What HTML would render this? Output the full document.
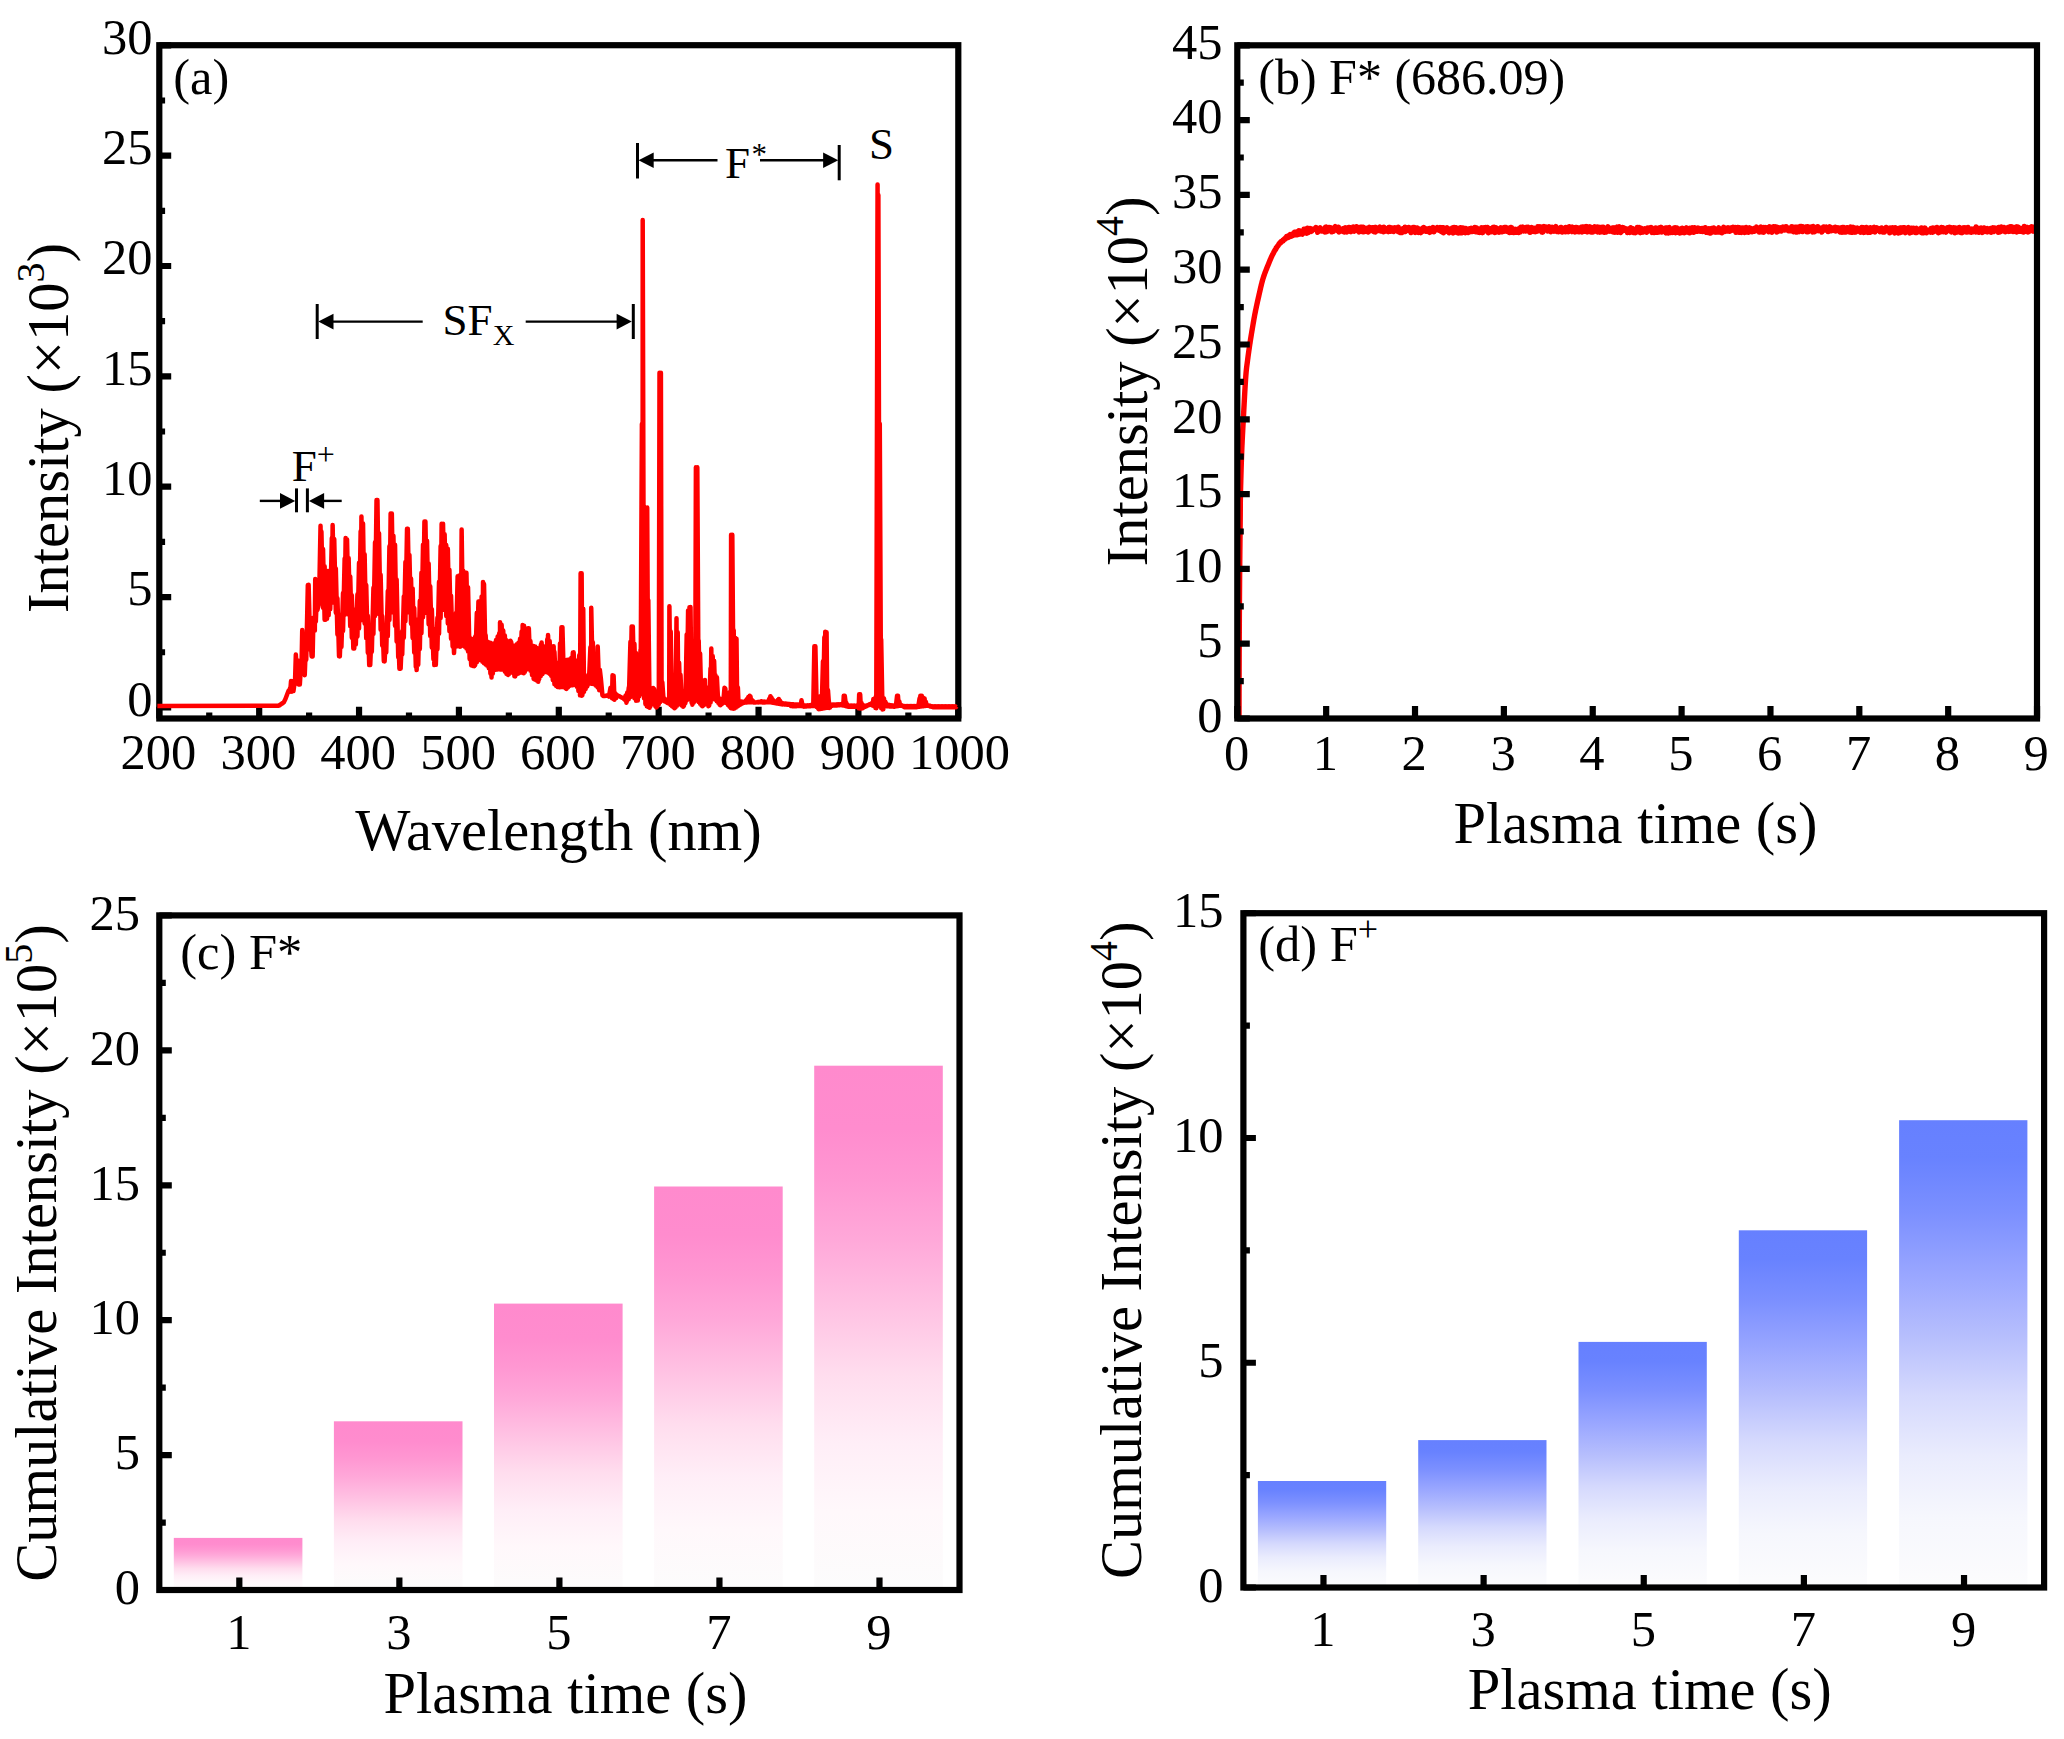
<!DOCTYPE html>
<html lang="en"><head><meta charset="utf-8"><title>Plasma emission spectra and cumulative intensity</title>
<style>html,body{margin:0;padding:0;background:#fff}svg{display:block}text{font-family:"Liberation Serif", serif;fill:#000}</style></head><body>
<svg width="2064" height="1739" viewBox="0 0 2064 1739">
<rect width="2064" height="1739" fill="#fff"/>
<defs>
<linearGradient id="gp" x1="0" y1="0" x2="0" y2="1">
<stop offset="0" stop-color="#FF8ACD"/>
<stop offset="0.12" stop-color="#FF8CCE"/>
<stop offset="0.22" stop-color="#FF97D2"/>
<stop offset="0.33" stop-color="#FFA8D9"/>
<stop offset="0.46" stop-color="#FFC2E3"/>
<stop offset="0.59" stop-color="#FFDDEE"/>
<stop offset="0.72" stop-color="#FFEEF7"/>
<stop offset="0.85" stop-color="#FFF8FB"/>
<stop offset="1" stop-color="#FCFCFC"/>
</linearGradient>
<linearGradient id="gb" x1="0" y1="0" x2="0" y2="1">
<stop offset="0" stop-color="#6680FF"/>
<stop offset="0.08" stop-color="#6882FF"/>
<stop offset="0.2" stop-color="#7C90FF"/>
<stop offset="0.33" stop-color="#99A6FF"/>
<stop offset="0.46" stop-color="#B6BEFD"/>
<stop offset="0.59" stop-color="#D5D9FD"/>
<stop offset="0.72" stop-color="#EAECFD"/>
<stop offset="0.85" stop-color="#F6F7FD"/>
<stop offset="1" stop-color="#FCFCFD"/>
</linearGradient>
</defs>
<path d="M159.3 707.4h11.9M159.3 597.05h11.9M159.3 486.7h11.9M159.3 376.35h11.9M159.3 266h11.9M159.3 155.65h11.9M159.3 45.3h11.9M159.3 652.23h5.8M159.3 541.88h5.8M159.3 431.52h5.8M159.3 321.17h5.8M159.3 210.82h5.8M159.3 100.48h5.8" stroke="#000" stroke-width="6.2" fill="none"/>
<path d="M159.3 718.5v-11.8M259.18 718.5v-11.8M359.05 718.5v-11.8M458.93 718.5v-11.8M558.8 718.5v-11.8M658.67 718.5v-11.8M758.55 718.5v-11.8M858.42 718.5v-11.8M958.3 718.5v-11.8M209.24 718.5v-5.9M309.11 718.5v-5.9M408.99 718.5v-5.9M508.86 718.5v-5.9M608.74 718.5v-5.9M708.61 718.5v-5.9M808.49 718.5v-5.9M908.36 718.5v-5.9" stroke="#000" stroke-width="6.2" fill="none"/>
<rect x="159.3" y="45.2" width="799" height="673.3" fill="none" stroke="#000" stroke-width="6.2"/>
<polyline fill="none" stroke="#FF0000" stroke-width="4.5" stroke-linejoin="round" stroke-linecap="butt" points="157.4,706 270,705.8 277.91,705.8 279.03,705.36 279.03,705.58 280.63,704.38 280.63,704.54 282.23,703.18 282.23,703.5 283.83,702.16 283.83,702.16 285.43,699 285.43,699 287.03,694.76 287.03,694.76 288.63,690.52 288.83,692.15 290.23,687.78 290.23,691.68 291.03,681.1 291.83,691.68 293.43,681.09 293.43,691.1 295.03,679.81 295.03,681.27 295.83,654.5 297.43,681.77 297.43,660.35 298.43,684.49 299.03,662.8 299.83,684.49 301.43,659.25 301.43,670.88 302.23,630.06 303.83,670.71 303.83,634.63 304.73,675.15 306.23,635.55 306.23,659.71 307.83,585.12 307.83,648.13 308.63,584.77 310.23,649.32 310.23,635.32 311.63,656.45 311.83,652.04 312.63,656.45 313.43,617.74 314.83,630.62 315.23,579.02 315.83,621.62 316.63,600.52 317.43,610.03 319.03,602.36 319.03,602.82 320.53,525.82 321.43,602.12 321.43,531.55 323.03,607.75 323.03,548.93 324.63,619.79 324.63,566.31 325.43,619.79 326.23,571.01 327.03,618.83 327.83,571.11 328.63,615.35 330.23,570.59 330.23,609.29 331.83,537.96 331.83,602.62 332.63,525.1 334.23,602.29 334.23,538.95 335.83,612.72 335.83,568.6 337.43,634.43 337.43,598.25 339.03,656.14 339.03,614.62 339.83,656.45 341.43,614.45 341.43,646.87 343.03,593.01 343.03,630.87 344.63,558.45 344.63,614.87 345.63,538.04 346.23,612.01 347.03,539.38 348.63,614.45 348.63,557.98 350.23,626.1 350.23,576.59 351.83,637.76 351.83,595.19 353.33,648.55 353.43,609.27 354.23,648.55 355.83,609.6 355.83,644.49 357.43,594.32 357.43,636.49 359.03,562.81 359.03,628.49 360.63,531.29 360.63,620.49 361.43,516.47 363.03,619.29 363.03,523.47 364.63,623.49 364.63,554.27 366.23,638.12 366.23,585.07 367.83,652.75 367.83,615.87 369.23,665.08 369.43,626.69 370.23,665.08 371.83,625.99 371.83,651.79 373.43,587.85 373.43,633.85 375.03,542.17 375.03,615.92 376.53,499.94 376.63,612.04 377.43,499.94 379.03,613.88 379.03,533.34 380.63,629.65 380.63,574.71 382.23,645.42 382.23,616.09 383.83,661.19 383.83,628.96 384.63,661.49 386.23,628.26 386.23,652.34 387.83,590.93 387.83,636.1 389.43,546.24 389.43,619.87 390.63,513.6 391.03,612.11 391.83,513.6 393.43,612.62 393.43,535.7 395.03,625.63 395.03,544.67 396.63,641.43 396.63,579.51 398.23,657.23 398.23,635.25 399.43,668.68 400.63,637.08 400.63,668.68 402.23,630.93 402.23,654.36 403.83,596.42 403.83,637.72 405.43,561.91 405.43,621.09 407.03,528.69 407.03,612.2 407.83,528.69 409.43,612.53 409.43,554.88 411.03,623.65 411.03,578.57 412.63,638.05 412.63,588.42 414.23,652.45 414.23,608.06 415.83,666.85 415.83,619.43 416.63,670.11 418.23,619.26 418.23,664.72 419.83,600.84 419.83,648.92 421.43,572.74 421.43,633.11 423.03,544.64 423.03,617.31 424.43,521.5 424.63,612.33 425.43,521.5 427.03,613.24 427.03,540.78 428.63,624.25 428.63,563.57 430.23,635.86 430.23,586.36 431.83,647.47 431.83,609.15 433.43,659.07 433.43,628.7 434.33,665.08 435.83,629.4 435.83,664.82 437.43,617.71 437.43,649.22 439.03,581.84 439.03,633.62 440.63,545.96 440.63,618.02 441.63,523.66 442.23,609.58 443.03,523.66 444.63,609.86 444.63,534.22 446.23,615.88 446.23,545.1 447.83,623.51 447.83,548.67 449.43,631.14 449.43,569.69 451.03,638.77 451.03,595.69 452.63,646.4 452.63,614.85 454.03,653.08 454.43,643.44 455.93,613.06 456.03,646.59 457.63,576.26 458.43,646.09 459.23,575.62 460.03,646.7 460.83,574.7 460.83,646.26 461.63,529.41 463.23,645.54 463.23,570.65 464.83,646.78 464.83,572.53 466.43,648.54 466.43,572.79 468.03,651.53 468.03,587.34 469.63,658.92 469.63,636.94 471.23,665.41 471.23,640 472.83,665.92 473.63,638.65 474.33,666.29 475.23,636.5 475.23,664.94 476.83,612.7 476.83,662.31 478.43,601.53 478.43,660.07 480.03,601.22 480.83,660.32 481.63,596.58 482.43,661.81 483.03,581.89 484.03,663.24 484.03,583.96 485.63,664.53 485.63,635.04 487.23,665.82 487.23,641.53 488.83,668.31 488.83,642.16 490.43,673.75 490.43,642.79 491.53,677.49 492.03,643.42 492.83,673.71 494.43,643.2 494.43,670.12 496.03,640.09 496.03,669.7 497.63,636.62 497.63,669.51 499.23,633.13 500.03,669.48 500.03,622.15 501.63,669.49 501.63,624.75 503.23,669.78 503.23,630.47 504.83,671.77 504.83,635.45 506.43,674.03 506.43,640.25 508.03,674.98 508.83,641.46 508.83,674.5 510.43,640.83 510.43,672.79 511.23,642.03 512.83,672.89 512.83,645.41 514.43,676.3 515.23,645.41 515.23,676.48 516.83,644.13 516.83,674.32 518.43,642.85 518.43,673.58 520.03,638.79 520.03,672.84 521.63,631.59 522.43,672.72 522.63,625.03 523.73,673.3 524.03,625.75 524.83,671.87 525.63,628.52 526.43,669.68 528.03,628.34 528.83,668.63 528.83,628.21 530.43,670.77 530.43,641.07 532.03,675.08 532.03,645.75 533.63,678.93 533.63,646.1 535.23,679.84 535.23,646.42 536.83,680.76 536.83,647.94 538.23,681.84 539.23,648.57 539.23,679.18 540.83,644.76 540.83,675.98 541.63,642.6 542.43,674.27 543.23,646.28 544.03,672.56 545.63,646.97 546.43,671.75 547.23,639.32 548.03,672.78 548.03,635.09 549.63,673.91 549.63,640.97 551.23,675.97 551.23,646.36 552.83,680.14 553.63,646.32 554.43,684.32 554.43,651.73 556.03,685.98 556.03,662.62 557.63,687.12 558.43,662.46 559.23,687.17 560.03,643.38 560.03,687.17 561.43,627.18 561.63,687.12 562.43,627.18 564.03,687.23 564.03,659.97 565.63,688.32 566.43,660.05 566.53,688.9 568.03,659.78 568.03,687.48 569.63,659.51 569.63,685.96 571.23,657.95 571.23,685.32 572.83,652.62 572.83,685.13 573.63,652.35 575.23,684.97 575.23,660.32 576.83,686.77 576.83,662.93 578.43,691.07 579.23,655.18 580.03,695.36 580.63,573.27 581.63,695.65 581.63,573.27 582.43,695.01 583.23,608.73 584.03,691.91 584.83,674.96 585.63,689.06 586.43,679.5 587.23,686.31 588.83,680.19 588.83,683.89 590.43,647.19 591.23,683.65 591.23,607.77 592.83,683.86 592.83,642.23 594.43,684.3 594.43,662.76 596.03,685.74 596.83,662.06 597.63,687.33 597.73,646.59 599.23,690.14 599.83,669.86 600.83,678.28 600.83,678.28 602.43,695.28 602.43,694.85 603.23,696.07 604.03,695.82 605.23,695.91 606.43,695.54 606.43,695.54 607.23,695.37 608.83,696.54 609.63,692.59 609.63,692.59 610.53,687.78 612.03,698.18 612.53,675.35 613.63,699.24 613.63,675.75 614.43,699.78 615.23,693.2 616.03,698.15 616.83,694.7 617.63,696.48 618.93,695.94 620.03,696.59 620.03,696.59 621.63,697.55 621.63,697.55 623.23,698.37 623.23,698.37 624.83,699.78 625.63,695.48 626.43,702.67 627.23,692.54 627.23,701.05 628.83,687.15 628.83,698.9 630.43,641.82 630.43,697.04 631.63,626.47 632.83,696.35 632.83,626.47 634.43,698.22 634.43,643.75 636.03,700.78 636.03,652.98 637.8,700.59 639.1,656.6 639.2,696.26 640.5,649.85 640.6,694.01 641.9,423.97 642.6,694.26 642.7,219.9 644,698.33 644.1,506.61 645.4,703.93 645.5,507.86 646.8,706.28 647.2,507.5 648.2,707.04 648.3,600.15 649.6,707.79 649.7,687.95 650.4,706.47 651.1,688.96 651.8,704.53 653.1,688.07 653.8,704.53 653.9,688.68 655.2,706.18 655.3,691.31 656.2,707.49 657.3,691.56 657.4,706.58 658.7,688.02 658.8,704.31 659.5,372.7 660.2,702.03 660.9,372.7 661.6,700.57 662.3,682.16 663.6,700.86 663.7,697.57 665,701.56 665.1,699.4 666.4,702.26 667.1,699.45 667.8,702.96 668.5,698.42 669.2,703.73 669.4,606.3 670.6,704.93 670.7,631.43 672,706.13 672.1,689.6 673.4,707.33 673.5,690.62 674.5,708.26 675.5,689.6 675.6,707.16 676.5,618.35 677,705.76 677.7,632.15 678.4,704.47 679.1,662.77 680.4,704.55 680.5,674.86 681.8,705.65 681.9,690.7 683.2,706.77 683.3,693.88 684,705.82 685.3,693.37 685.4,703.02 686.7,634.46 686.8,700.22 688.1,610.38 688.2,698.66 689.5,607.13 690.2,699.18 690.5,607.04 691.6,702.74 691.7,677.35 692.4,704.67 693.7,677.86 693.8,702.71 695.1,667.46 695.2,700.86 695.9,467.2 697.2,700.61 697.3,467.2 698.6,701.95 698.7,640.6 700,703.58 700.1,653.61 701.4,705.21 701.5,683.82 702.4,706.36 703.5,683.95 703.6,705.46 704.9,679.88 705,704.44 705.7,687 707,704.56 707.1,694.03 708.4,706.23 709.1,693.91 709.2,705.61 710.5,668.36 710.6,702.35 711.3,648.43 712,699.26 712.7,656.08 714,698.59 714.1,660.86 715.4,699.71 715.5,675.28 716.8,701.31 716.9,677.24 718.2,702.91 718.3,696.68 719.6,704.51 719.7,698.74 720.4,705.36 721.7,699.35 721.8,704.24 723.1,697.93 723.2,703.12 724.5,687.75 724.6,702.36 725.3,688.46 726.6,703.31 726.7,692.81 728,704.99 728.7,693.47 729.4,706.67 730.1,691.64 730.8,708.2 731.1,534.7 732.2,708.48 732.3,534.7 733.6,708.76 733.7,630.24 734.4,708.55 735.1,637.76 735.8,707.61 736.5,638.83 737.2,706.68 737.9,687.6 738.6,705.75 739.3,701.2 740,704.85 740.7,701.46 741.4,703.98 742.1,701.64 742.8,703.1 744.1,701.81 744.2,702.74 745.5,700.91 745.6,702.6 746.9,698.98 747,702.46 748.3,697.06 748.4,702.32 749.7,695.71 749.8,702.31 750.5,696.47 751.2,702.31 751.9,699.88 752.6,702.31 753.3,701.19 754.3,702.55 755.3,702.44 755.4,702.43 756.7,702.29 756.8,702.31 758.1,702.02 758.2,702.31 759.5,701.72 759.6,702.31 760.9,701.42 761,702.31 761.7,701.44 762.4,702.31 763.1,701.56 763.8,702.31 764.5,701.67 765.2,702.31 765.9,701.79 766.6,702.31 767.9,701.33 768,702.31 769.3,698.64 769.4,702.31 770.4,696.22 771.4,702.45 771.5,697.47 772.8,702.68 772.9,699.81 774.2,702.92 774.3,701.58 775.6,703.15 776.3,701.45 777,703.38 777.7,700.09 778.4,703.62 778.8,699 779.8,703.85 779.9,700.51 781.2,704.08 781.3,702.57 782.6,704.26 782.7,703.27 784,704.35 784.1,703.43 785.4,704.45 785.5,703.58 786.8,704.54 786.9,703.74 788.2,704.64 788.3,703.89 789.6,704.73 789.7,704.05 791,704.83 791.1,704.2 792.4,704.92 792.5,704.28 793.8,705.02 793.9,704.36 795.2,705.11 795.3,704.44 796.6,705.21 796.7,704.51 798,705.3 798.1,704.59 799.4,705.4 799.5,704.66 790.47,705.26 790.87,706.01 791.57,705.26 792.27,706.01 792.97,705.26 793.67,706.01 794.37,705.26 795.07,706.01 795.77,705.26 796.47,706.01 797.17,705.26 797.87,706.01 799.17,705.25 799.27,706.01 800.57,704.38 800.67,706.01 801.47,700.2 802.67,706.23 802.77,704.9 804.07,706.51 804.77,705.61 804.87,706.54 806.17,705.51 806.27,706.44 807.57,705.42 807.67,706.35 808.97,705.33 809.07,706.26 810.37,705.23 810.47,706.16 811.77,705.1 811.87,706.11 813.17,703.37 813.27,706.11 814.37,646.34 815.27,706.12 815.37,646.34 816.67,706.88 816.77,695.57 818.07,708.51 818.17,696.6 818.87,709.28 819.57,696.62 820.27,709.08 821.57,696.45 821.67,708.83 822.97,661.2 823.07,708.53 824.37,637.34 824.47,708.23 825.27,631.63 825.87,707.93 826.57,632.35 827.27,707.63 827.97,690.05 829.27,707.97 829.37,702.79 830.07,707.47 830.77,704.62 831.47,706.08 832.77,704.69 832.87,705.62 834.17,704.61 834.27,705.54 835.57,704.53 835.67,705.46 836.97,704.45 837.07,705.39 838.37,704.38 838.47,705.31 839.77,704.3 839.87,705.23 841.17,704.22 841.87,705.25 842.57,703.6 843.27,705.55 843.77,695.68 844.67,705.85 844.77,695.68 846.07,706.15 846.17,702.38 847.47,706.45 847.57,705.46 848.27,706.58 848.97,705.64 849.67,706.58 850.37,705.64 851.07,706.58 851.77,705.64 852.47,706.58 853.17,705.64 853.87,706.58 854.57,705.64 855.27,706.58 856.57,705.63 857.27,706.81 857.97,704.76 858.67,708.33 859.17,694.25 859.47,708.48 860.17,694.25 860.87,708.48 861.57,703.08 862.27,708.37 862.97,705.54 863.67,707.57 864.37,705.64 865.07,706.77 866.37,705.57 866.47,706.21 867.77,705.04 867.87,705.65 869.17,704.48 869.27,705.09 870.57,703.92 871.27,704.8 871.97,703.15 872.67,705.48 873.37,699.04 874.07,706.18 874.77,698.3 875.47,708.07 876.17,695.04 876.27,708.32 877.57,184.4 877.67,706.45 878.37,194.99 879.67,706.41 879.77,423.8 881.07,707.88 881.17,639.2 882.47,709.56 882.57,696.62 883.27,709.28 883.97,698.46 884.67,706.54 885.37,701.61 886.67,706.15 886.77,704.41 888.07,706.23 888.17,704.77 889.47,706.31 889.57,704.97 890.87,706.39 890.97,705.17 892.27,706.46 892.37,705.37 893.67,706.54 893.77,705.57 894.47,706.55 895.77,704.92 895.87,706.35 897.07,695.68 897.27,706.15 897.97,695.68 898.67,705.95 899.37,701.49 900.07,705.75 900.77,704.58 902.07,705.94 902.17,705.42 903.47,706.64 903.57,706.09 904.37,707.06 904.97,706.11 905.67,707.06 906.37,706.11 907.07,707.06 907.77,706.11 908.47,707.06 909.17,706.11 909.87,707.06 910.57,706.11 911.27,707.06 911.97,706.11 912.67,707.06 913.37,706.11 914.07,707.06 914.77,706.11 915.47,707.06 916.17,706.11 916.87,707.06 918.17,705.76 918.27,706.88 919.57,698.28 919.67,706.69 920.37,695.68 921.07,706.5 921.77,695.68 922.47,706.31 923.17,697.71 923.87,706.12 924.57,698.51 925.27,705.93 925.97,702.07 926.67,705.74 927.37,705.04 928.67,705.88 928.77,705.42 930.07,706.3 930.17,705.8 931.47,706.72 931.57,706.17 932.67,707.06 932.97,706.3 933.67,707.06 934.37,706.3 935.07,707.06 935.77,706.3 936.47,707.06 937.17,706.3 937.87,707.06 938.57,706.3 939.27,707.06 939.97,706.3 940.67,707.06 941.37,706.3 942.07,707.06 942.77,706.3 943.47,707.06 944.17,706.3 944.87,707.06 945.57,706.3 946.27,707.06 946.97,706.3 947.67,707.06 948.37,706.3 949.07,707.06 949.77,706.3 950.47,707.06 951.17,706.3 951.87,707.06 952.57,706.3 953.27,707.06 953.97,706.3 954.67,707.06 955.37,706.3 956.07,707.06 956.77,706.3"/>
<text x="152.5" y="715.8" font-size="50.5" text-anchor="end">0</text>
<text x="152.5" y="605.45" font-size="50.5" text-anchor="end">5</text>
<text x="152.5" y="495.1" font-size="50.5" text-anchor="end">10</text>
<text x="152.5" y="384.75" font-size="50.5" text-anchor="end">15</text>
<text x="152.5" y="274.4" font-size="50.5" text-anchor="end">20</text>
<text x="152.5" y="164.05" font-size="50.5" text-anchor="end">25</text>
<text x="152.5" y="53.7" font-size="50.5" text-anchor="end">30</text>
<text x="158.4" y="768.8" font-size="50.5" text-anchor="middle">200</text>
<text x="258.28" y="768.8" font-size="50.5" text-anchor="middle">300</text>
<text x="358.15" y="768.8" font-size="50.5" text-anchor="middle">400</text>
<text x="458.03" y="768.8" font-size="50.5" text-anchor="middle">500</text>
<text x="557.9" y="768.8" font-size="50.5" text-anchor="middle">600</text>
<text x="657.77" y="768.8" font-size="50.5" text-anchor="middle">700</text>
<text x="757.65" y="768.8" font-size="50.5" text-anchor="middle">800</text>
<text x="857.52" y="768.8" font-size="50.5" text-anchor="middle">900</text>
<text x="959.6" y="768.8" font-size="50.5" text-anchor="middle">1000</text>
<text x="558.5" y="850.3" font-size="58.5" text-anchor="middle">Wavelength (nm)</text>
<text transform="translate(67.8 428) rotate(-90)" font-size="58.5" text-anchor="middle">Intensity (×10<tspan font-size="40" dy="-24">3</tspan><tspan dy="24">)</tspan></text>
<text x="173.3" y="93.7" font-size="50.5" text-anchor="start">(a)</text>
<line x1="637.5" y1="143" x2="637.5" y2="178.5" stroke="#000" stroke-width="3"/>
<line x1="839.2" y1="145" x2="839.2" y2="180.3" stroke="#000" stroke-width="3"/>
<line x1="717.5" y1="160.2" x2="652.7" y2="160.2" stroke="#000" stroke-width="2.4"/>
<polygon points="638.5,160.2 653.7,152.4 653.7,168" fill="#000"/>
<line x1="760" y1="160.2" x2="824.1" y2="160.2" stroke="#000" stroke-width="2.4"/>
<polygon points="838.3,160.2 823.1,152.4 823.1,168" fill="#000"/>
<text x="725" y="178.3" font-size="45" text-anchor="start">F<tspan font-size="31" dx="1.5" dy="-13">*</tspan></text>
<text x="869" y="159.2" font-size="45" text-anchor="start">S</text>
<line x1="317.2" y1="304" x2="317.2" y2="339" stroke="#000" stroke-width="3"/>
<line x1="633.3" y1="304" x2="633.3" y2="339" stroke="#000" stroke-width="3"/>
<line x1="422.7" y1="321.6" x2="332.5" y2="321.6" stroke="#000" stroke-width="2.4"/>
<polygon points="318.3,321.6 333.5,313.8 333.5,329.4" fill="#000"/>
<line x1="525.7" y1="321.6" x2="617.6" y2="321.6" stroke="#000" stroke-width="2.4"/>
<polygon points="631.8,321.6 616.6,313.8 616.6,329.4" fill="#000"/>
<text x="442.6" y="334.5" font-size="45" text-anchor="start">SF<tspan font-size="30" dy="10.5">X</tspan></text>
<line x1="296.5" y1="488.4" x2="296.5" y2="512.3" stroke="#000" stroke-width="3"/>
<line x1="307.4" y1="488.4" x2="307.4" y2="512.3" stroke="#000" stroke-width="3"/>
<line x1="259.8" y1="500.9" x2="281" y2="500.9" stroke="#000" stroke-width="2.4"/>
<polygon points="295.2,500.9 280,493.1 280,508.7" fill="#000"/>
<line x1="341.7" y1="500.9" x2="323.1" y2="500.9" stroke="#000" stroke-width="2.4"/>
<polygon points="308.9,500.9 324.1,493.1 324.1,508.7" fill="#000"/>
<text x="291.8" y="481.2" font-size="45" text-anchor="start">F<tspan font-size="32" dy="-16.3">+</tspan></text>
<polyline fill="none" stroke="#FF0000" stroke-width="5.4" stroke-linejoin="round" points="1239,719 1239.01,716.58 1239.01,713.68 1239.02,710.35 1239.03,706.62 1239.04,702.57 1239.05,698.22 1239.06,693.64 1239.08,688.88 1239.09,683.97 1239.1,678.98 1239.12,673.95 1239.13,668.94 1239.15,663.98 1239.16,659.14 1239.18,654.47 1239.2,650 1239.22,645.63 1239.24,641.23 1239.26,636.79 1239.28,632.34 1239.3,627.86 1239.33,623.38 1239.35,618.91 1239.37,614.44 1239.4,609.99 1239.43,605.56 1239.45,601.17 1239.48,596.82 1239.51,592.52 1239.54,588.28 1239.57,584.1 1239.6,580 1239.63,575.92 1239.67,571.8 1239.7,567.67 1239.74,563.54 1239.78,559.42 1239.82,555.34 1239.86,551.31 1239.91,547.35 1239.95,543.47 1239.99,539.69 1240.03,536.02 1240.07,532.49 1240.1,529.1 1240.14,525.88 1240.17,522.84 1240.2,520 1240.23,517.41 1240.25,515.09 1240.26,513 1240.28,511.12 1240.29,509.41 1240.29,507.83 1240.3,506.36 1240.31,504.96 1240.32,503.6 1240.33,502.25 1240.35,500.87 1240.37,499.43 1240.39,497.89 1240.42,496.23 1240.46,494.41 1240.5,492.4 1240.55,490.22 1240.6,487.94 1240.66,485.56 1240.73,483.1 1240.79,480.58 1240.86,478 1240.94,475.38 1241.01,472.73 1241.09,470.07 1241.17,467.41 1241.26,464.76 1241.34,462.14 1241.43,459.56 1241.52,457.04 1241.61,454.58 1241.7,452.2 1241.79,449.9 1241.88,447.65 1241.98,445.46 1242.08,443.31 1242.17,441.19 1242.27,439.1 1242.38,437.02 1242.48,434.95 1242.59,432.88 1242.7,430.8 1242.81,428.71 1242.92,426.59 1243.04,424.44 1243.16,422.25 1243.28,420 1243.4,417.7 1243.53,415.3 1243.66,412.79 1243.8,410.19 1243.94,407.52 1244.09,404.8 1244.24,402.04 1244.39,399.29 1244.54,396.54 1244.69,393.82 1244.84,391.16 1244.99,388.58 1245.14,386.09 1245.28,383.71 1245.43,381.48 1245.57,379.4 1245.7,377.5 1245.83,375.78 1245.95,374.22 1246.07,372.81 1246.19,371.52 1246.31,370.34 1246.42,369.25 1246.53,368.25 1246.64,367.3 1246.76,366.4 1246.87,365.53 1246.98,364.67 1247.1,363.81 1247.22,362.93 1247.34,362.01 1247.47,361.04 1247.6,360 1247.74,358.92 1247.88,357.82 1248.02,356.72 1248.17,355.62 1248.32,354.52 1248.48,353.41 1248.63,352.31 1248.79,351.22 1248.94,350.13 1249.1,349.06 1249.26,348 1249.41,346.96 1249.56,345.93 1249.71,344.93 1249.86,343.95 1250,343 1250.14,342.08 1250.27,341.21 1250.4,340.36 1250.53,339.55 1250.65,338.76 1250.77,337.99 1250.9,337.22 1251.02,336.47 1251.14,335.71 1251.27,334.96 1251.39,334.19 1251.53,333.4 1251.66,332.6 1251.8,331.77 1251.95,330.9 1252.1,330 1252.26,329.07 1252.42,328.11 1252.58,327.13 1252.75,326.14 1252.92,325.13 1253.09,324.1 1253.27,323.06 1253.45,322.01 1253.63,320.96 1253.82,319.89 1254.01,318.83 1254.2,317.76 1254.4,316.69 1254.59,315.62 1254.8,314.56 1255,313.5 1255.21,312.44 1255.42,311.38 1255.64,310.32 1255.86,309.25 1256.08,308.18 1256.31,307.11 1256.54,306.03 1256.77,304.95 1257,303.87 1257.24,302.79 1257.48,301.71 1257.72,300.62 1257.96,299.54 1258.21,298.46 1258.45,297.38 1258.7,296.3 1258.95,295.22 1259.19,294.12 1259.44,293.01 1259.69,291.9 1259.95,290.78 1260.2,289.67 1260.45,288.55 1260.71,287.44 1260.97,286.33 1261.24,285.24 1261.5,284.15 1261.78,283.08 1262.05,282.03 1262.33,281 1262.61,279.99 1262.9,279 1263.19,278.04 1263.5,277.09 1263.8,276.16 1264.12,275.24 1264.44,274.34 1264.76,273.45 1265.09,272.57 1265.41,271.71 1265.74,270.86 1266.07,270.02 1266.4,269.19 1266.73,268.37 1267.05,267.56 1267.37,266.77 1267.69,265.98 1268,265.2 1268.31,264.43 1268.61,263.68 1268.91,262.94 1269.2,262.21 1269.5,261.49 1269.79,260.78 1270.08,260.09 1270.38,259.4 1270.67,258.72 1270.96,258.06 1271.26,257.4 1271.56,256.74 1271.86,256.1 1272.17,255.45 1272.48,254.83 1272.8,254.19 1273.12,253.57 1273.45,253.02 1273.79,252.2 1274.13,251.58 1274.47,250.98 1274.81,250.36 1275.16,249.73 1275.51,249.61 1275.86,249 1276.21,247.96 1276.56,247.69 1276.91,247.02 1277.26,246.49 1277.61,246.02 1277.95,245.8 1278.3,245.28 1278.64,244.61 1278.99,244 1279.34,243.73 1279.69,243.09 1280.04,243.22 1280.39,243.07 1280.74,242.28 1281.09,241.52 1281.44,241.31 1281.78,241.27 1282.13,241.32 1282.47,241.31 1282.81,240.36 1283.14,240.79 1283.47,240.2 1283.8,239.58 1284.12,239.19 1284.43,239.15 1284.73,239.3 1285.02,238.5 1285.31,238.82 1285.59,238.11 1285.88,237.43 1286.16,237.83 1286.45,237.98 1286.74,236.37 1287.04,236.97 1287.35,236.78 1287.67,237.68 1288,237.65 1288.34,236.07 1288.7,237.23 1289.07,236.79 1289.45,235.21 1289.84,235.58 1290.24,234.46 1290.64,236.27 1291.05,235.7 1291.47,236.24 1291.9,235.83 1292.34,235.32 1292.78,235.4 1293.23,234.72 1293.69,233.05 1294.15,234.53 1294.63,232.36 1295.11,232.68 1295.6,234.8 1296.1,231.95 1296.62,231.94 1297.15,231.78 1297.7,234.69 1298.25,231.72 1298.82,230.89 1299.39,234.15 1299.96,230.92 1300.54,233.91 1301.12,233.02 1301.7,233.63 1302.27,234.06 1302.84,232.18 1303.4,233.11 1303.96,229.24 1304.5,232.74 1305.03,231.33 1305.54,232.26 1306.04,228.96 1306.53,232.23 1307.01,233.13 1307.49,228.3 1307.96,229.61 1308.44,230.8 1308.93,232.12 1309.43,228.86 1309.94,228.43 1310.46,228.72 1311.01,230.62 1311.58,231.29 1312.18,229.28 1312.8,229.08 1313.48,229.2 1314.22,228.91 1315.02,229.26 1315.86,227.44 1316.73,229.68 1317.63,232.24 1318.52,229.22 1319.42,231.04 1320.3,227.88 1321.15,230.76 1321.96,231.13 1322.72,230.7 1323.41,229.87 1324.03,229.7 1324.57,230.57 1325,231.95 1325.45,227.36 1325.9,227.06 1326.35,230.71 1326.8,231.65 1327.25,229.41 1327.7,229 1328.15,230.54 1328.6,227.55 1329.05,228.01 1329.5,227.62 1329.95,229.79 1330.4,228.27 1330.85,227.81 1331.3,230.38 1331.75,231.84 1332.2,228.16 1332.65,230.45 1333.1,228.82 1333.55,231.28 1334,229.78 1334.45,228 1334.9,227.72 1335.35,226.63 1335.8,229.19 1336.25,228.64 1336.7,227.46 1337.15,228.52 1337.6,228.3 1338.05,230.84 1338.5,227.3 1338.95,232.05 1339.4,229.19 1339.85,229.86 1340.3,229.12 1340.75,231.18 1341.2,231.1 1341.65,229.62 1342.1,229.2 1342.55,230.54 1343,231.3 1343.45,228.75 1343.9,230.62 1344.35,231.89 1344.8,229.13 1345.25,227.8 1345.7,227.83 1346.15,230.54 1346.6,230.3 1347.05,231.89 1347.5,231.3 1347.95,227.88 1348.4,227.59 1348.85,227.97 1349.3,227.58 1349.75,230.48 1350.2,231.34 1350.65,231.57 1351.1,227.97 1351.55,231.38 1352,228.3 1352.45,228.91 1352.9,230.63 1353.35,227.03 1353.8,227.07 1354.25,231.22 1354.7,228.19 1355.15,228.56 1355.6,229.81 1356.05,230.35 1356.5,226.61 1356.95,228.45 1357.4,229.02 1357.85,229.3 1358.3,227.76 1358.75,229.86 1359.2,231.94 1359.65,228.78 1360.1,229.64 1360.55,227.27 1361,228.14 1361.45,230.33 1361.9,227.24 1362.35,231.58 1362.8,231.71 1363.25,227.17 1363.7,231.9 1364.15,228.73 1364.6,230.96 1365.05,230.88 1365.5,228.3 1365.95,230.43 1366.4,230.31 1366.85,231.17 1367.3,228.15 1367.75,230.89 1368.2,232.05 1368.65,230.44 1369.1,229.68 1369.55,227.32 1370,229.45 1370.45,228.67 1370.9,230.72 1371.35,230.5 1371.8,229.88 1372.25,227.73 1372.7,230.33 1373.15,230.26 1373.6,227.73 1374.05,231.72 1374.5,230.41 1374.95,227.43 1375.4,231.97 1375.85,227.55 1376.3,228.62 1376.75,230.8 1377.2,230.12 1377.65,229.88 1378.1,230.41 1378.55,229.35 1379,228.54 1379.45,227.79 1379.9,227.19 1380.35,230.82 1380.8,231.04 1381.25,229.86 1381.7,230.97 1382.15,228.84 1382.6,228.33 1383.05,228.99 1383.5,231.74 1383.95,227.09 1384.4,229.69 1384.85,228.25 1385.3,231.18 1385.75,228.86 1386.2,228.75 1386.65,229.15 1387.1,229.93 1387.55,231.22 1388,228.88 1388.45,231.66 1388.9,227.55 1389.35,228.44 1389.8,227.49 1390.25,227.57 1390.7,231.31 1391.15,231.02 1391.6,227.99 1392.05,228.02 1392.5,229.3 1392.95,231.14 1393.4,231.55 1393.85,231.18 1394.3,230.31 1394.75,227.82 1395.2,229.24 1395.65,228.09 1396.1,229.97 1396.55,230.21 1397,228.16 1397.45,228.44 1397.9,231.42 1398.35,227.22 1398.8,231.55 1399.25,232.05 1399.7,232.38 1400.15,229.22 1400.6,230.17 1401.05,230.35 1401.5,230.64 1401.95,232.57 1402.4,230.95 1402.85,228.78 1403.3,231.93 1403.75,229.83 1404.2,230.49 1404.65,231.2 1405.1,227.15 1405.55,231.46 1406,230.86 1406.45,229.91 1406.9,230.09 1407.35,229.74 1407.8,228.25 1408.25,230.14 1408.7,227.39 1409.15,229.99 1409.6,230.81 1410.05,229.69 1410.5,230.37 1410.95,232.58 1411.4,232.21 1411.85,227.98 1412.3,231.66 1412.75,230.72 1413.2,227.52 1413.65,229.26 1414.1,228.56 1414.55,227.69 1415,230.28 1415.45,232.47 1415.9,229.08 1416.35,232.15 1416.8,231.17 1417.25,228.04 1417.7,232.1 1418.15,230.66 1418.6,232.49 1419.05,231.31 1419.5,231.45 1419.95,229.24 1420.4,231.84 1420.85,232.54 1421.3,232.15 1421.75,229.78 1422.2,231.58 1422.65,230.06 1423.1,227.96 1423.55,227.59 1424,227.79 1424.45,228.48 1424.9,228.26 1425.35,230.15 1425.8,231.29 1426.25,230.38 1426.7,229.74 1427.15,231.02 1427.6,229.09 1428.05,229.99 1428.5,231.63 1428.95,229.65 1429.4,228.41 1429.85,232.44 1430.3,231.44 1430.75,229.47 1431.2,229.49 1431.65,230.38 1432.1,230.76 1432.55,228.68 1433,227.44 1433.45,228.6 1433.9,231.82 1434.35,228.24 1434.8,230.02 1435.25,228.54 1435.7,228.62 1436.15,228.41 1436.6,229.71 1437.05,228.4 1437.5,227.61 1437.95,228.08 1438.4,228.4 1438.85,230.21 1439.3,227.8 1439.75,227.59 1440.2,229.98 1440.65,229.76 1441.1,231.41 1441.55,227.76 1442,229.74 1442.45,229.7 1442.9,227.63 1443.35,232.89 1443.8,228.71 1444.25,228.01 1444.7,230.15 1445.15,228.41 1445.6,230.98 1446.05,229.43 1446.5,228.19 1446.95,227.78 1447.4,231.57 1447.85,229.04 1448.3,231.91 1448.75,230.1 1449.2,232.72 1449.65,229.18 1450.1,228.9 1450.55,228.99 1451,232.06 1451.45,231.02 1451.9,229.43 1452.35,228.02 1452.8,231.32 1453.25,232.93 1453.7,230.82 1454.15,227.52 1454.6,227.67 1455.05,228.01 1455.5,228.45 1455.95,227.7 1456.4,227.8 1456.85,231.16 1457.3,232.54 1457.75,228.62 1458.2,232.95 1458.65,230.16 1459.1,231.99 1459.55,232.63 1460,232.76 1460.45,227.68 1460.9,229.2 1461.35,230.89 1461.8,232.79 1462.25,227.98 1462.7,229.13 1463.15,232.24 1463.6,228.12 1464.05,229.66 1464.5,229.35 1464.95,231.28 1465.4,232.67 1465.85,228.45 1466.3,231.61 1466.75,231.58 1467.2,232.14 1467.65,230.56 1468.1,232.63 1468.55,229.49 1469,229.78 1469.45,228.74 1469.9,231.81 1470.35,230.14 1470.8,228.95 1471.25,228.39 1471.7,231.47 1472.15,230.83 1472.6,231.41 1473.05,229.59 1473.5,230.15 1473.95,228.28 1474.4,231.4 1474.85,227.54 1475.3,230.03 1475.75,231.66 1476.2,231.2 1476.65,227.94 1477.1,228.73 1477.55,232.12 1478,230.99 1478.45,232.31 1478.9,232.27 1479.35,229.9 1479.8,232.4 1480.25,231.47 1480.7,229.23 1481.15,229.43 1481.6,227.76 1482.05,229.59 1482.5,232.7 1482.95,227.93 1483.4,230.53 1483.85,227.95 1484.3,227.78 1484.75,230.96 1485.2,228.67 1485.65,227.59 1486.1,228.17 1486.55,230.92 1487,230.58 1487.45,227.36 1487.9,228.58 1488.35,232.71 1488.8,228.52 1489.25,230.43 1489.7,229.62 1490.15,231.64 1490.6,230.65 1491.05,231.67 1491.5,230.25 1491.95,228.3 1492.4,228.24 1492.85,227.68 1493.3,231.85 1493.75,227.86 1494.2,227.35 1494.65,232.63 1495.1,228.33 1495.55,232.21 1496,227.68 1496.45,229.8 1496.9,228.43 1497.35,231.83 1497.8,230.62 1498.25,230.76 1498.7,231.43 1499.15,232.04 1499.6,229.09 1500.05,230.52 1500.5,229.64 1500.95,227.76 1501.4,231.81 1501.85,230.45 1502.3,231.68 1502.75,228.27 1503.2,230.13 1503.65,229.7 1504.1,231.17 1504.55,227.52 1505,229.02 1505.45,229.79 1505.9,227.47 1506.35,230.16 1506.8,231.18 1507.25,229.42 1507.7,230.68 1508.15,230.43 1508.6,228.23 1509.05,228.99 1509.5,232.6 1509.95,228.89 1510.4,229.42 1510.85,227.47 1511.3,228.22 1511.75,227.92 1512.2,232.2 1512.65,231.05 1513.1,231.87 1513.55,232.49 1514,230.39 1514.45,232.17 1514.9,229.95 1515.35,229.29 1515.8,232.25 1516.25,231.99 1516.7,232.24 1517.15,229.63 1517.6,231.24 1518.05,229.19 1518.5,232.49 1518.95,232.05 1519.4,228.52 1519.85,232.11 1520.3,227.91 1520.75,227.41 1521.2,230.91 1521.65,228.51 1522.1,229.76 1522.55,230.43 1523,227.07 1523.45,231.01 1523.9,228.38 1524.35,229.25 1524.8,228.75 1525.25,230.97 1525.7,230.99 1526.15,228.41 1526.6,227.38 1527.05,228.47 1527.5,229.09 1527.95,227.21 1528.4,227.63 1528.85,231.04 1529.3,230.69 1529.75,232.23 1530.2,232.24 1530.65,231.65 1531.1,228.83 1531.55,227.64 1532,228.48 1532.45,229.32 1532.9,229.67 1533.35,229.75 1533.8,228.73 1534.25,231.48 1534.7,228.3 1535.15,229.29 1535.6,231.66 1536.05,231.21 1536.5,228.35 1536.95,228.04 1537.4,231.19 1537.85,226.73 1538.3,227.4 1538.75,229.63 1539.2,229.66 1539.65,227.58 1540.1,226.93 1540.55,227.78 1541,230.95 1541.45,229.24 1541.9,232.11 1542.35,231.03 1542.8,232.11 1543.25,226.81 1543.7,227.65 1544.15,226.68 1544.6,229.03 1545.05,228.5 1545.5,226.89 1545.95,229.65 1546.4,227.12 1546.85,228.33 1547.3,227.97 1547.75,231.07 1548.2,228.92 1548.65,228.03 1549.1,226.82 1549.55,228.97 1550,230.08 1550.45,230.34 1550.9,231.67 1551.35,231.09 1551.8,227.94 1552.25,227.31 1552.7,230.8 1553.15,230.97 1553.6,229.39 1554.05,231.2 1554.5,229.63 1554.95,228.1 1555.4,227.48 1555.85,226.63 1556.3,230.13 1556.75,231.55 1557.2,231.6 1557.65,229.14 1558.1,230.25 1558.55,231.72 1559,231.08 1559.45,229.89 1559.9,228.84 1560.35,229.42 1560.8,227.47 1561.25,227.54 1561.7,230.34 1562.15,232.06 1562.6,229.57 1563.05,228.79 1563.5,228.48 1563.95,229.05 1564.4,231 1564.85,229.04 1565.3,231.87 1565.75,227.37 1566.2,228.27 1566.65,229.42 1567.1,228.81 1567.55,231.27 1568,231.13 1568.45,231.72 1568.9,229.93 1569.35,226.67 1569.8,229.72 1570.25,229.58 1570.7,229.23 1571.15,228.07 1571.6,230.47 1572.05,231.61 1572.5,227.08 1572.95,230.25 1573.4,228.58 1573.85,229.39 1574.3,231.52 1574.75,231.88 1575.2,230.11 1575.65,227.6 1576.1,231.66 1576.55,227.52 1577,228.66 1577.45,231.15 1577.9,228.28 1578.35,228.03 1578.8,231.84 1579.25,231.8 1579.7,228.3 1580.15,228.72 1580.6,228.1 1581.05,227.26 1581.5,227.93 1581.95,232.02 1582.4,226.98 1582.85,227.82 1583.3,227.66 1583.75,226.98 1584.2,229.49 1584.65,230.7 1585.1,231.24 1585.55,230.08 1586,231.13 1586.45,226.58 1586.9,228.14 1587.35,231.94 1587.8,226.95 1588.25,228.06 1588.7,229.27 1589.15,228.07 1589.6,229.63 1590.05,226.84 1590.5,227.9 1590.95,231.95 1591.4,227.39 1591.85,231.66 1592.3,227.59 1592.75,232.16 1593.2,230.38 1593.65,230.23 1594.1,227.41 1594.55,226.92 1595,230.87 1595.45,227.61 1595.9,227.69 1596.35,231.24 1596.8,231.53 1597.25,226.91 1597.7,232.02 1598.15,229.64 1598.6,228.79 1599.05,227.25 1599.5,228.84 1599.95,232.19 1600.4,228.24 1600.85,227.41 1601.3,227.49 1601.75,227.39 1602.2,228.66 1602.65,231.81 1603.1,227.13 1603.55,227.78 1604,231.97 1604.45,232.29 1604.9,232.2 1605.35,228.1 1605.8,228.71 1606.25,232.05 1606.7,229.45 1607.15,230.68 1607.6,228.5 1608.05,226.87 1608.5,228.69 1608.95,230.95 1609.4,231.15 1609.85,229.96 1610.3,229.38 1610.75,229.8 1611.2,229.27 1611.65,229.79 1612.1,231.46 1612.55,227.93 1613,230.14 1613.45,232.04 1613.9,231.57 1614.35,227.83 1614.8,232.23 1615.25,231.54 1615.7,227.79 1616.15,228.34 1616.6,227.99 1617.05,227.16 1617.5,232.35 1617.95,229.17 1618.4,231.77 1618.85,227.53 1619.3,226.97 1619.75,231.77 1620.2,231.35 1620.65,232.46 1621.1,230.75 1621.55,229.86 1622,231.22 1622.45,227.45 1622.9,229.97 1623.35,229.42 1623.8,227.77 1624.25,230.32 1624.7,228.77 1625.15,229.81 1625.6,229.07 1626.05,228.76 1626.5,229 1626.95,230.36 1627.4,232.49 1627.85,232.25 1628.3,231.84 1628.75,231.7 1629.2,228.63 1629.65,232.5 1630.1,228.55 1630.55,227.73 1631,229.85 1631.45,231.16 1631.9,228.97 1632.35,230.68 1632.8,228.65 1633.25,232.49 1633.7,229.62 1634.15,229.77 1634.6,230.07 1635.05,232 1635.5,232.63 1635.95,230.07 1636.4,229.59 1636.85,230.59 1637.3,227.52 1637.75,229.52 1638.2,231.89 1638.65,231.5 1639.1,227.49 1639.55,231.95 1640,229.32 1640.45,232.67 1640.9,229.23 1641.35,228.39 1641.8,230.26 1642.25,232.15 1642.7,229.62 1643.15,232.06 1643.6,231.2 1644.05,229.24 1644.5,228.91 1644.95,230.06 1645.4,229.47 1645.85,229.33 1646.3,230.89 1646.75,232.15 1647.2,230.53 1647.65,228.08 1648.1,228.5 1648.55,229.35 1649,230.72 1649.45,228.06 1649.9,227.74 1650.35,229.09 1650.8,228.88 1651.25,227.47 1651.7,230.32 1652.15,232.47 1652.6,230.31 1653.05,231.45 1653.5,231.96 1653.95,232.02 1654.4,232.45 1654.85,229.81 1655.3,231.16 1655.75,228.02 1656.2,232.28 1656.65,229.47 1657.1,230.02 1657.55,232.35 1658,228.97 1658.45,228.44 1658.9,231.99 1659.35,230.73 1659.8,227.86 1660.25,227.55 1660.7,229.36 1661.15,227.44 1661.6,232.06 1662.05,228.43 1662.5,228.94 1662.95,229.59 1663.4,230.28 1663.85,229.84 1664.3,230.94 1664.75,231.12 1665.2,229.87 1665.65,227.97 1666.1,232.92 1666.55,231.31 1667,227.91 1667.45,229.92 1667.9,231.66 1668.35,233 1668.8,227.82 1669.25,227.51 1669.7,230.14 1670.15,229.82 1670.6,232.47 1671.05,232.09 1671.5,229.32 1671.95,229.81 1672.4,230.73 1672.85,232.42 1673.3,228.6 1673.75,229.67 1674.2,227.97 1674.65,231.07 1675.1,227.63 1675.55,232.72 1676,230.42 1676.45,230.7 1676.9,227.96 1677.35,228.79 1677.8,230.11 1678.25,232.29 1678.7,230.51 1679.15,229.09 1679.6,232.99 1680.05,231.2 1680.5,230.45 1680.95,228.63 1681.4,229.17 1681.85,232.54 1682.3,228.24 1682.75,230.48 1683.2,230.97 1683.65,229.49 1684.1,231.8 1684.55,232.6 1685,232.3 1685.45,231.63 1685.9,228.64 1686.35,227.84 1686.8,229.92 1687.25,229.25 1687.7,228.58 1688.15,232.38 1688.6,228.71 1689.05,232.11 1689.5,232.75 1689.95,228.17 1690.4,232.61 1690.85,229.72 1691.3,228.68 1691.75,228.54 1692.2,227.7 1692.65,230.28 1693.1,229.64 1693.55,232.26 1694,232.15 1694.45,227.8 1694.9,229.73 1695.35,229.66 1695.8,228.48 1696.25,228.88 1696.7,228.95 1697.15,231.36 1697.6,229.38 1698.05,228.09 1698.5,228.7 1698.95,229.94 1699.4,230.63 1699.85,228.84 1700.3,231.38 1700.75,228.66 1701.2,231.21 1701.65,230.87 1702.1,228.43 1702.55,231.65 1703,229.65 1703.45,230.46 1703.9,230.79 1704.35,230.95 1704.8,229.91 1705.25,227.74 1705.7,231.83 1706.15,232.24 1706.6,230.17 1707.05,230.66 1707.5,228.92 1707.95,232.44 1708.4,231.25 1708.85,228.65 1709.3,231.98 1709.75,232.92 1710.2,229.33 1710.65,232.96 1711.1,230.09 1711.55,228.38 1712,231.39 1712.45,229.27 1712.9,231.47 1713.35,230.63 1713.8,227.96 1714.25,230.31 1714.7,232.12 1715.15,230.02 1715.6,230.36 1716.05,232.17 1716.5,229.84 1716.95,230.09 1717.4,230.59 1717.85,231.93 1718.3,228.45 1718.75,227.83 1719.2,231.57 1719.65,230.4 1720.1,228.99 1720.55,232.29 1721,232.24 1721.45,230.31 1721.9,232.81 1722.35,231.95 1722.8,231.46 1723.25,228.89 1723.7,227.32 1724.15,231.05 1724.6,231.36 1725.05,229.2 1725.5,229.92 1725.95,230.41 1726.4,228.62 1726.85,231.13 1727.3,230.36 1727.75,229.37 1728.2,227.82 1728.65,230.3 1729.1,228.98 1729.55,231.24 1730,228.15 1730.45,229.38 1730.9,228.27 1731.35,229.45 1731.8,230.38 1732.25,227.75 1732.7,227.45 1733.15,229.84 1733.6,228.26 1734.05,229.96 1734.5,228.06 1734.95,227.68 1735.4,230.12 1735.85,232.27 1736.3,231.96 1736.75,229.98 1737.2,229.31 1737.65,227.45 1738.1,228.62 1738.55,228.83 1739,232.33 1739.45,227.71 1739.9,232.36 1740.35,229.71 1740.8,229.47 1741.25,228.5 1741.7,232.42 1742.15,228.06 1742.6,230.21 1743.05,229.87 1743.5,228.12 1743.95,228.24 1744.4,232.51 1744.85,231.41 1745.3,231.08 1745.75,232.03 1746.2,227.52 1746.65,230.9 1747.1,231.16 1747.55,228.21 1748,229.5 1748.45,232.39 1748.9,228.76 1749.35,231.19 1749.8,227.84 1750.25,230.65 1750.7,228.41 1751.15,229.75 1751.6,228.98 1752.05,231.76 1752.5,231.05 1752.95,229.7 1753.4,230.72 1753.85,229.26 1754.3,231.36 1754.75,228.29 1755.2,229.89 1755.65,230.12 1756.1,229.01 1756.55,227.09 1757,227.77 1757.45,230.4 1757.9,227.99 1758.35,231.05 1758.8,229.63 1759.25,232.13 1759.7,231.54 1760.15,230.86 1760.6,228.86 1761.05,227.02 1761.5,229.88 1761.95,230.94 1762.4,231.91 1762.85,227.89 1763.3,227.63 1763.75,232.23 1764.2,230.88 1764.65,229.44 1765.1,230.86 1765.55,227.56 1766,229.76 1766.45,230.45 1766.9,230.09 1767.35,227.6 1767.8,227.46 1768.25,230.19 1768.7,231.64 1769.15,227.45 1769.6,226.72 1770.05,227.14 1770.5,231.06 1770.95,228.85 1771.4,229.21 1771.85,232.22 1772.3,230.07 1772.75,228.12 1773.2,230.57 1773.65,226.65 1774.1,228.21 1774.55,230.54 1775,227.58 1775.45,226.8 1775.9,229.52 1776.35,228.45 1776.8,232.05 1777.25,227.17 1777.7,231.09 1778.15,228.77 1778.6,231.1 1779.05,229.08 1779.5,230.32 1779.95,228.41 1780.4,227.84 1780.85,229.11 1781.3,231.06 1781.75,228.5 1782.2,227.86 1782.65,228.89 1783.1,227.1 1783.55,228.33 1784,229.76 1784.45,229.61 1784.9,229.9 1785.35,228.17 1785.8,226.68 1786.25,226.69 1786.7,228.44 1787.15,227.64 1787.6,229.72 1788.05,228.02 1788.5,230.8 1788.95,229.9 1789.4,230.24 1789.85,230.64 1790.3,229.44 1790.75,228.91 1791.2,228.25 1791.65,226.87 1792.1,230.97 1792.55,229.32 1793,227.07 1793.45,231.7 1793.9,229.77 1794.35,230 1794.8,228.97 1795.25,227.21 1795.7,232.1 1796.15,227.45 1796.6,228.56 1797.05,232.1 1797.5,227.19 1797.95,229.3 1798.4,229.19 1798.85,227.89 1799.3,231.68 1799.75,228.82 1800.2,226.57 1800.65,229.15 1801.1,226.53 1801.55,230.47 1802,231.37 1802.45,231.57 1802.9,226.77 1803.35,230.28 1803.8,228.21 1804.25,229.15 1804.7,228.18 1805.15,228.21 1805.6,227.25 1806.05,230.01 1806.5,227 1806.95,231.9 1807.4,226.75 1807.85,231.91 1808.3,227.58 1808.75,226.98 1809.2,230.68 1809.65,229.48 1810.1,230.82 1810.55,229.36 1811,230.05 1811.45,226.98 1811.9,230.29 1812.35,229.39 1812.8,231.91 1813.25,226.56 1813.7,226.91 1814.15,230.32 1814.6,231.72 1815.05,228.89 1815.5,230.52 1815.95,229.68 1816.4,228.73 1816.85,229.15 1817.3,229.91 1817.75,226.71 1818.2,228.26 1818.65,230.68 1819.1,228 1819.55,229.21 1820,228 1820.45,228.57 1820.9,230.21 1821.35,230.73 1821.8,231.93 1822.25,229.25 1822.7,227.71 1823.15,228.47 1823.6,226.91 1824.05,227.93 1824.5,229.87 1824.95,230.02 1825.4,227.95 1825.85,227.62 1826.3,227.16 1826.75,227.61 1827.2,229.42 1827.65,228.05 1828.1,231.57 1828.55,229.79 1829,228.53 1829.45,229.05 1829.9,226.86 1830.35,230.75 1830.8,230.85 1831.25,228.69 1831.7,230.72 1832.15,228.19 1832.6,227.89 1833.05,227.95 1833.5,227.77 1833.95,230.07 1834.4,230.28 1834.85,230.76 1835.3,227.27 1835.75,230.99 1836.2,229.38 1836.65,228.83 1837.1,229.53 1837.55,229.14 1838,227.84 1838.45,228.94 1838.9,230.35 1839.35,230.74 1839.8,231.87 1840.25,227.84 1840.7,231.74 1841.15,231.24 1841.6,230.76 1842.05,232.25 1842.5,227.55 1842.95,231.13 1843.4,231.82 1843.85,227.47 1844.3,230.13 1844.75,232.11 1845.2,228.45 1845.65,231.6 1846.1,231.89 1846.55,229.26 1847,227.64 1847.45,228.04 1847.9,231.49 1848.35,229.21 1848.8,228.62 1849.25,229.34 1849.7,232.06 1850.15,228.29 1850.6,226.98 1851.05,232.2 1851.5,228.66 1851.95,229.05 1852.4,232.37 1852.85,228.48 1853.3,227.39 1853.75,231.89 1854.2,228.29 1854.65,228.17 1855.1,232.19 1855.55,228.23 1856,231.99 1856.45,228.82 1856.9,228.66 1857.35,228.18 1857.8,230.01 1858.25,230.12 1858.7,229.22 1859.15,229.83 1859.6,228.67 1860.05,231.69 1860.5,232.24 1860.95,231.23 1861.4,231.61 1861.85,227.42 1862.3,228.44 1862.75,228.18 1863.2,227.91 1863.65,232.47 1864.1,232.13 1864.55,232.18 1865,230.19 1865.45,227.73 1865.9,229.47 1866.35,227.4 1866.8,232.16 1867.25,228.59 1867.7,228.72 1868.15,232.41 1868.6,228.24 1869.05,232.29 1869.5,228.87 1869.95,230.86 1870.4,227.74 1870.85,232.18 1871.3,229.38 1871.75,229.09 1872.2,230.83 1872.65,230.49 1873.1,228.58 1873.55,227.88 1874,230.41 1874.45,227.33 1874.9,232.08 1875.35,229.13 1875.8,228.16 1876.25,229.05 1876.7,227.86 1877.15,229 1877.6,230.27 1878.05,229.52 1878.5,229.11 1878.95,228.88 1879.4,229.98 1879.85,231.62 1880.3,229.71 1880.75,231.57 1881.2,229.98 1881.65,227.95 1882.1,228.24 1882.55,232.03 1883,229.98 1883.45,229.44 1883.9,230.19 1884.35,232.05 1884.8,229.41 1885.25,229.34 1885.7,229.37 1886.15,227.39 1886.6,230.38 1887.05,230.02 1887.5,230.12 1887.95,229.87 1888.4,229.99 1888.85,231.36 1889.3,228.4 1889.75,232.86 1890.2,228.01 1890.65,232.22 1891.1,228.35 1891.55,231.83 1892,228.84 1892.45,227.82 1892.9,230.42 1893.35,232.09 1893.8,232.13 1894.25,232.31 1894.7,232.89 1895.15,227.71 1895.6,229.53 1896.05,228.01 1896.5,231.65 1896.95,229.95 1897.4,231.59 1897.85,231.88 1898.3,233.03 1898.75,231.22 1899.2,232.34 1899.65,230.51 1900.1,227.89 1900.55,232.44 1901,227.96 1901.45,227.93 1901.9,232.1 1902.35,229.03 1902.8,231.17 1903.25,227.62 1903.7,228.64 1904.15,231.47 1904.6,227.68 1905.05,230.33 1905.5,232.72 1905.95,228.67 1906.4,231.42 1906.85,231.64 1907.3,230.95 1907.75,231.77 1908.2,231.39 1908.65,227.56 1909.1,228.56 1909.55,230.49 1910,232.92 1910.45,228.7 1910.9,230.78 1911.35,228.21 1911.8,232.24 1912.25,229.99 1912.7,230.42 1913.15,231.24 1913.6,228.26 1914.05,231.58 1914.5,231.98 1914.95,232.31 1915.4,229.07 1915.85,228.81 1916.3,228.42 1916.75,232.54 1917.2,229.95 1917.65,229.68 1918.1,230.41 1918.55,231.41 1919,229.28 1919.45,229.38 1919.9,231.79 1920.35,231.85 1920.8,229.16 1921.25,227.91 1921.7,232.69 1922.15,231.58 1922.6,230.82 1923.05,229.76 1923.5,232.86 1923.95,229.9 1924.4,228.71 1924.85,228.05 1925.3,229.46 1925.75,230.85 1926.2,229.53 1926.65,232.79 1927.1,231.12 1927.55,230.05 1928,231.18 1928.45,230.85 1928.9,230.94 1929.35,230.25 1929.8,230.4 1930.25,230.22 1930.7,232.13 1931.15,228.54 1931.6,231.86 1932.05,229.13 1932.5,232.21 1932.95,227.87 1933.4,230.17 1933.85,229.93 1934.3,231.44 1934.75,228.58 1935.2,228.92 1935.65,228.19 1936.1,230.59 1936.55,230.67 1937,227.44 1937.45,228.43 1937.9,228.55 1938.35,232.79 1938.8,229.97 1939.25,230.59 1939.7,229.04 1940.15,231.11 1940.6,231.96 1941.05,231.16 1941.5,227.41 1941.95,229.86 1942.4,230.13 1942.85,227.64 1943.3,231.81 1943.75,229.17 1944.2,229.02 1944.65,230.88 1945.1,230.65 1945.55,230.15 1946,232.18 1946.45,230.26 1946.9,229.28 1947.35,227.71 1947.8,230.44 1948.25,229.38 1948.7,230.34 1949.15,229.28 1949.6,227.37 1950.05,227.53 1950.5,228.2 1950.95,227.84 1951.4,232.08 1951.85,230.56 1952.3,228.64 1952.75,231.27 1953.2,230.84 1953.65,227.63 1954.1,231.49 1954.55,228.56 1955,232.85 1955.45,228.06 1955.9,228.86 1956.35,228.65 1956.8,232.08 1957.25,231.83 1957.7,230.48 1958.15,228.07 1958.6,229.63 1959.05,231.15 1959.5,227.54 1959.95,232.37 1960.4,231.92 1960.85,232.42 1961.3,231.11 1961.75,230.65 1962.2,232.64 1962.65,228.67 1963.1,228.88 1963.55,227.86 1964,228.17 1964.45,231.63 1964.9,227.68 1965.35,231.31 1965.8,229.36 1966.25,232.05 1966.7,231.38 1967.15,230.97 1967.6,231.85 1968.05,227.35 1968.5,228.59 1968.95,229.16 1969.4,229.49 1969.85,230.84 1970.3,232 1970.75,231.22 1971.2,232.27 1971.65,230.96 1972.1,229.05 1972.55,229.89 1973,231.23 1973.45,231.6 1973.9,229.1 1974.35,229.01 1974.8,230.46 1975.25,228.29 1975.7,231.95 1976.15,227 1976.6,230.63 1977.05,229.71 1977.5,228.07 1977.95,230.17 1978.4,229.62 1978.85,232.35 1979.3,231.91 1979.75,230.24 1980.2,231.82 1980.65,231.89 1981.1,227.86 1981.55,231.56 1982,231.59 1982.45,232.46 1982.9,231.16 1983.35,229.1 1983.8,228.05 1984.25,230.55 1984.7,228.06 1985.15,231.12 1985.6,230.09 1986.05,231.49 1986.5,228.86 1986.95,228.55 1987.4,231.91 1987.85,230.55 1988.3,228.96 1988.75,229.97 1989.2,229.27 1989.65,230.42 1990.1,229.71 1990.55,228.41 1991,232.29 1991.45,231.76 1991.9,231.04 1992.35,228.34 1992.8,227.87 1993.25,230.87 1993.7,231.38 1994.15,230.42 1994.6,227.96 1995.05,230.79 1995.5,229.68 1995.95,228.83 1996.4,230.04 1996.85,229.25 1997.3,230.36 1997.75,230.93 1998.2,232.22 1998.65,227.34 1999.1,229.91 1999.55,232 2000,230.38 2000.45,229.94 2000.9,231.47 2001.35,226.86 2001.8,231.12 2002.25,230.16 2002.7,229.94 2003.15,228.41 2003.6,230.13 2004.05,227.36 2004.5,229.6 2004.95,228.09 2005.4,231.86 2005.85,231.15 2006.3,229.28 2006.75,230.86 2007.2,228.78 2007.65,229.56 2008.1,227.52 2008.55,231.42 2009,230.89 2009.45,230.86 2009.9,227.07 2010.35,231.19 2010.8,226.66 2011.25,229.76 2011.7,229.32 2012.15,226.92 2012.6,228.94 2013.05,231.55 2013.5,230.07 2013.95,228.33 2014.4,231.13 2014.85,228.56 2015.3,231.59 2015.75,228.81 2016.2,226.99 2016.65,232 2017.1,226.95 2017.55,227.97 2018,230.86 2018.45,227.19 2018.9,229.59 2019.35,231.35 2019.8,229.84 2020.25,228.48 2020.7,230.78 2021.15,231.15 2021.6,229.77 2022.05,230.04 2022.5,228.33 2022.95,228.8 2023.4,232.08 2023.85,231.96 2024.3,226.53 2024.75,227.62 2025.2,227.78 2025.65,230.95 2026.1,227.64 2026.55,227.46 2027,230.8 2027.45,227.45 2027.9,231.98 2028.35,229.06 2028.8,231.54 2029.25,231.09 2029.7,227.66 2030.15,230.9 2030.6,228.83 2031.05,227.75 2031.5,226.76 2031.95,230.44 2032.4,229.64 2032.85,228.2 2033.3,231.16 2033.75,227.6 2034.2,228.99 2034.65,226.99 2035.1,228.46 2035.55,231.45 2036,229.3 2036.45,227.36 2036.9,227.83 2037.35,230.11"/>
<path d="M1237.3 718.5h12.5M1237.3 643.7h12.5M1237.3 568.9h12.5M1237.3 494.1h12.5M1237.3 419.3h12.5M1237.3 344.5h12.5M1237.3 269.7h12.5M1237.3 194.9h12.5M1237.3 120.1h12.5M1237.3 45.3h12.5M1237.3 681.1h6.5M1237.3 606.3h6.5M1237.3 531.5h6.5M1237.3 456.7h6.5M1237.3 381.9h6.5M1237.3 307.1h6.5M1237.3 232.3h6.5M1237.3 157.5h6.5M1237.3 82.7h6.5" stroke="#000" stroke-width="6.2" fill="none"/>
<path d="M1237.3 718.5v-12.5M1326.16 718.5v-12.5M1415.02 718.5v-12.5M1503.88 718.5v-12.5M1592.74 718.5v-12.5M1681.6 718.5v-12.5M1770.46 718.5v-12.5M1859.32 718.5v-12.5M1948.18 718.5v-12.5M2037.04 718.5v-12.5" stroke="#000" stroke-width="6.2" fill="none"/>
<rect x="1237.3" y="45.3" width="799.7" height="673.2" fill="none" stroke="#000" stroke-width="6.2"/>
<text x="1222.5" y="731.8" font-size="50.5" text-anchor="end">0</text>
<text x="1222.5" y="657" font-size="50.5" text-anchor="end">5</text>
<text x="1222.5" y="582.2" font-size="50.5" text-anchor="end">10</text>
<text x="1222.5" y="507.4" font-size="50.5" text-anchor="end">15</text>
<text x="1222.5" y="432.6" font-size="50.5" text-anchor="end">20</text>
<text x="1222.5" y="357.8" font-size="50.5" text-anchor="end">25</text>
<text x="1222.5" y="283" font-size="50.5" text-anchor="end">30</text>
<text x="1222.5" y="208.2" font-size="50.5" text-anchor="end">35</text>
<text x="1222.5" y="133.4" font-size="50.5" text-anchor="end">40</text>
<text x="1222.5" y="58.6" font-size="50.5" text-anchor="end">45</text>
<text x="1236.5" y="770" font-size="50.5" text-anchor="middle">0</text>
<text x="1325.36" y="770" font-size="50.5" text-anchor="middle">1</text>
<text x="1414.22" y="770" font-size="50.5" text-anchor="middle">2</text>
<text x="1503.08" y="770" font-size="50.5" text-anchor="middle">3</text>
<text x="1591.94" y="770" font-size="50.5" text-anchor="middle">4</text>
<text x="1680.8" y="770" font-size="50.5" text-anchor="middle">5</text>
<text x="1769.66" y="770" font-size="50.5" text-anchor="middle">6</text>
<text x="1858.52" y="770" font-size="50.5" text-anchor="middle">7</text>
<text x="1947.38" y="770" font-size="50.5" text-anchor="middle">8</text>
<text x="2036.24" y="770" font-size="50.5" text-anchor="middle">9</text>
<text x="1635.5" y="842.6" font-size="58.5" text-anchor="middle">Plasma time (s)</text>
<text transform="translate(1147 381.3) rotate(-90)" font-size="58.5" text-anchor="middle">Intensity (×10<tspan font-size="40" dy="-24">4</tspan><tspan dy="24">)</tspan></text>
<text x="1258.3" y="94.1" font-size="50" text-anchor="start">(b) F* (686.09)</text>
<rect x="173.8" y="1537.9" width="128.6" height="52.1" fill="url(#gp)"/>
<rect x="333.9" y="1421.3" width="128.6" height="168.7" fill="url(#gp)"/>
<rect x="494" y="1303.6" width="128.6" height="286.4" fill="url(#gp)"/>
<rect x="654.1" y="1186.5" width="128.6" height="403.5" fill="url(#gp)"/>
<rect x="814.2" y="1065.7" width="128.6" height="524.3" fill="url(#gp)"/>
<path d="M159.3 1590h12.5M159.3 1455.1h12.5M159.3 1320.2h12.5M159.3 1185.3h12.5M159.3 1050.4h12.5M159.3 915.5h12.5M159.3 1522.55h6.5M159.3 1387.65h6.5M159.3 1252.75h6.5M159.3 1117.85h6.5M159.3 982.95h6.5" stroke="#000" stroke-width="6.2" fill="none"/>
<path d="M239.32 1590v-12.5M399.36 1590v-12.5M559.4 1590v-12.5M719.44 1590v-12.5M879.48 1590v-12.5" stroke="#000" stroke-width="6.2" fill="none"/>
<rect x="159.3" y="915.4" width="800.2" height="674.6" fill="none" stroke="#000" stroke-width="6.2"/>
<text x="140" y="1604.2" font-size="50.5" text-anchor="end">0</text>
<text x="140" y="1469.3" font-size="50.5" text-anchor="end">5</text>
<text x="140" y="1334.4" font-size="50.5" text-anchor="end">10</text>
<text x="140" y="1199.5" font-size="50.5" text-anchor="end">15</text>
<text x="140" y="1064.6" font-size="50.5" text-anchor="end">20</text>
<text x="140" y="929.7" font-size="50.5" text-anchor="end">25</text>
<text x="238.82" y="1648.8" font-size="50.5" text-anchor="middle">1</text>
<text x="398.86" y="1648.8" font-size="50.5" text-anchor="middle">3</text>
<text x="558.9" y="1648.8" font-size="50.5" text-anchor="middle">5</text>
<text x="718.94" y="1648.8" font-size="50.5" text-anchor="middle">7</text>
<text x="878.98" y="1648.8" font-size="50.5" text-anchor="middle">9</text>
<text x="565.5" y="1713" font-size="58.5" text-anchor="middle">Plasma time (s)</text>
<text transform="translate(56 1253) rotate(-90)" font-size="58.5" text-anchor="middle">Cumulative Intensity (×10<tspan font-size="40" dy="-24">5</tspan><tspan dy="24">)</tspan></text>
<text x="180.3" y="968.7" font-size="50.5" text-anchor="start">(c) F*</text>
<rect x="1257.9" y="1481" width="128.3" height="106.5" fill="url(#gb)"/>
<rect x="1418.2" y="1440.1" width="128.3" height="147.4" fill="url(#gb)"/>
<rect x="1578.5" y="1341.9" width="128.3" height="245.6" fill="url(#gb)"/>
<rect x="1738.8" y="1230.3" width="128.3" height="357.2" fill="url(#gb)"/>
<rect x="1899.1" y="1120.2" width="128.3" height="467.3" fill="url(#gb)"/>
<path d="M1243.4 1587.5h12.5M1243.4 1362.75h12.5M1243.4 1138h12.5M1243.4 913.25h12.5M1243.4 1475.12h6.5M1243.4 1250.38h6.5M1243.4 1025.62h6.5" stroke="#000" stroke-width="6.2" fill="none"/>
<path d="M1323.47 1587.5v-12.5M1483.61 1587.5v-12.5M1643.75 1587.5v-12.5M1803.89 1587.5v-12.5M1964.03 1587.5v-12.5" stroke="#000" stroke-width="6.2" fill="none"/>
<rect x="1243.4" y="913.2" width="800.7" height="674.3" fill="none" stroke="#000" stroke-width="6.2"/>
<text x="1223.5" y="1601.5" font-size="50.5" text-anchor="end">0</text>
<text x="1223.5" y="1376.75" font-size="50.5" text-anchor="end">5</text>
<text x="1223.5" y="1152" font-size="50.5" text-anchor="end">10</text>
<text x="1223.5" y="927.25" font-size="50.5" text-anchor="end">15</text>
<text x="1322.97" y="1646" font-size="50.5" text-anchor="middle">1</text>
<text x="1483.11" y="1646" font-size="50.5" text-anchor="middle">3</text>
<text x="1643.25" y="1646" font-size="50.5" text-anchor="middle">5</text>
<text x="1803.39" y="1646" font-size="50.5" text-anchor="middle">7</text>
<text x="1963.53" y="1646" font-size="50.5" text-anchor="middle">9</text>
<text x="1649.8" y="1709.4" font-size="58.5" text-anchor="middle">Plasma time (s)</text>
<text transform="translate(1141.3 1250.3) rotate(-90)" font-size="58.5" text-anchor="middle">Cumulative Intensity (×10<tspan font-size="40" dy="-24">4</tspan><tspan dy="24">)</tspan></text>
<text x="1258.2" y="961.1" font-size="50.5" text-anchor="start">(d) F<tspan font-size="36" dy="-20.3">+</tspan></text>
</svg></body></html>
